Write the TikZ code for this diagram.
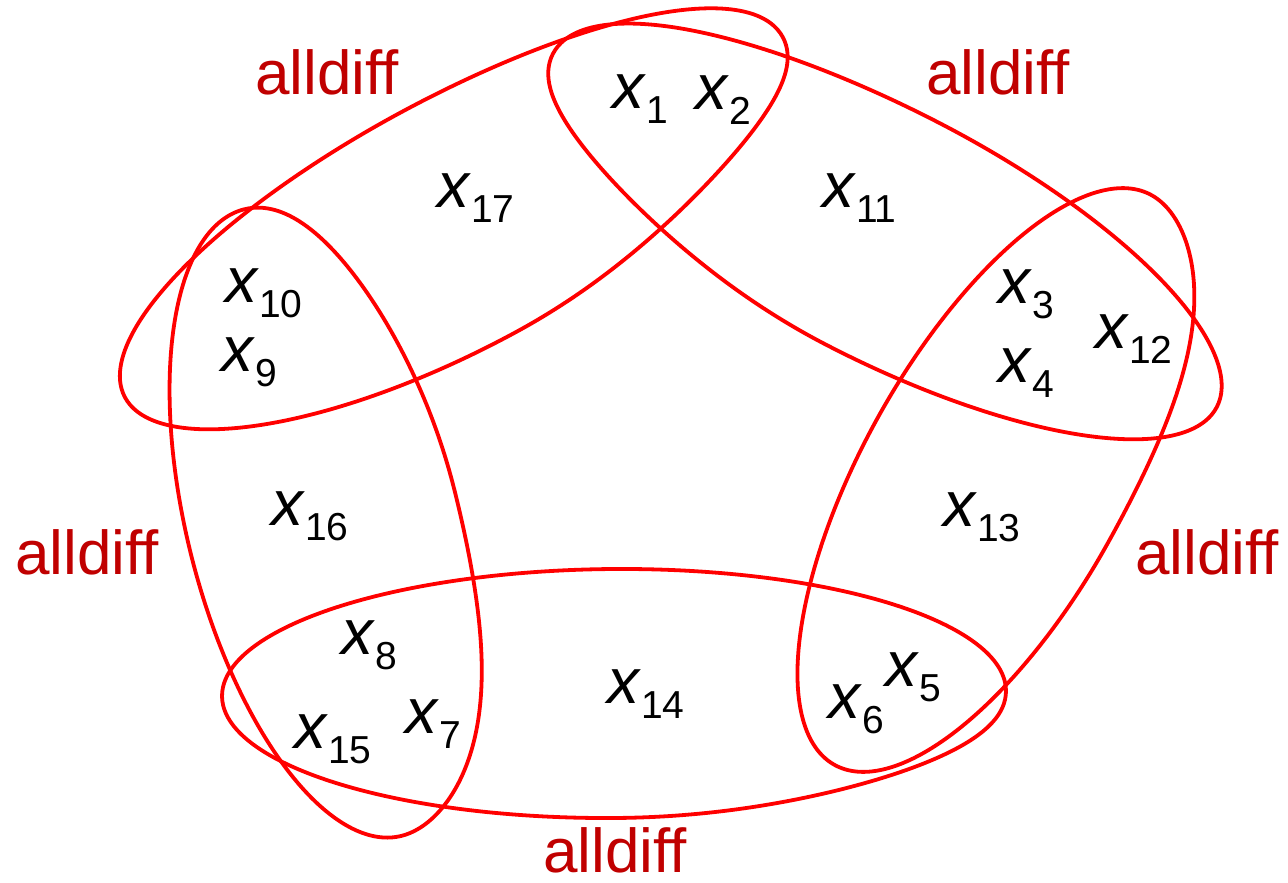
\documentclass[tikz,border=0pt]{standalone}
\usepackage{fontspec}
\setmainfont{Liberation Sans}
\definecolor{ellred}{RGB}{255,0,0}
\definecolor{lblred}{RGB}{192,0,0}
\tikzset{
  ring/.style={draw=ellred, line width=3.8pt, line join=round},
  var/.style={anchor=base west, inner sep=0pt, font=\fontsize{64}{64}\selectfont},
  lbl/.style={anchor=base west, inner sep=0pt, text=lblred, font=\fontsize{62}{62}\selectfont},
}
\newcommand{\xsub}[1]{\textit{x}\raisebox{-15pt}{\fontsize{39}{39}\selectfont #1}}
% #1 half-length, #2 half-width, #3/#4 bend of the end at u>0 / u<0,
% #5/#6 squeeze of the side v>0 toward u>0 / u<0
\newcommand{\ringplot}[6]{%
  \draw[ring] plot[domain=0:358, samples=180, smooth cycle]
   ({#1*cos(\x)},
    {#2*sin(\x) - ifthenelse(cos(\x)>0, #3, #4)*cos(\x)*cos(\x)
     - #2*sin(\x)*sin(\x)*cos(\x)*cos(\x)*(sin(\x)>0)*((cos(\x)>0)*(#5) + (cos(\x)<0)*(#6))});}
\begin{document}
\begin{tikzpicture}[x=1pt,y=-1pt]
\useasboundingbox (0,0) rectangle (1288,883);

% ring A (top-left)
\begin{scope}[shift={(457,223)}, rotate=28.5]
  \ringplot{375}{124}{8}{5}{0.26}{0}
\end{scope}
% ring B (top-right)
\begin{scope}[shift={(883,234)}, rotate=-27.4]
  \ringplot{376}{124.5}{0}{8}{0}{0.23}
\end{scope}
% ring C (right)
\begin{scope}[shift={(993,480)}, rotate=60.9]
  \ringplot{326}{131}{0}{0}{-0.22}{0}
\end{scope}
% ring D (bottom)
\begin{scope}[shift={(614,693.5)}, rotate=0.4]
  \ringplot{392}{124.5}{0}{0}{0.15}{0}
\end{scope}
% ring E (left)
\begin{scope}[shift={(322.8,522.6)}, rotate=-75.9, yscale=-1]
  \ringplot{323}{135.6}{0}{0}{-0.21}{0.1}
\end{scope}

% variables
\node[var] (v1)  at (612,108) {\xsub{1}};
\node[var] (v2)  at (695,110) {\xsub{2}};
\node[var] (v3)  at (998,303) {\xsub{3}};
\node[var] (v4)  at (998,382) {\xsub{4}};
\node[var] (v5)  at (885,686) {\xsub{5}};
\node[var] (v6)  at (828,718) {\xsub{6}};
\node[var] (v7)  at (405,733) {\xsub{7}};
\node[var] (v8)  at (341,654) {\xsub{8}};
\node[var] (v9)  at (221,371) {\xsub{9}};
\node[var] (v10) at (225,302) {\xsub{10}};
\node[var] (v11) at (822,207) {\xsub{11}};
\node[var] (v12) at (1095,348) {\xsub{12}};
\node[var] (v13) at (943,526) {\xsub{13}};
\node[var] (v14) at (607,703) {\xsub{14}};
\node[var] (v15) at (294,748) {\xsub{15}};
\node[var] (v16) at (271,525) {\xsub{16}};
\node[var] (v17) at (437,207) {\xsub{17}};

% constraint labels
\node[lbl] (l1) at (255,95)  {alldiff};
\node[lbl] (l2) at (926,95)  {alldiff};
\node[lbl] (l3) at (15,574)  {alldiff};
\node[lbl] (l4) at (1135,574) {alldiff};
\node[lbl] (l5) at (543,872) {alldiff};
\end{tikzpicture}
\end{document}
